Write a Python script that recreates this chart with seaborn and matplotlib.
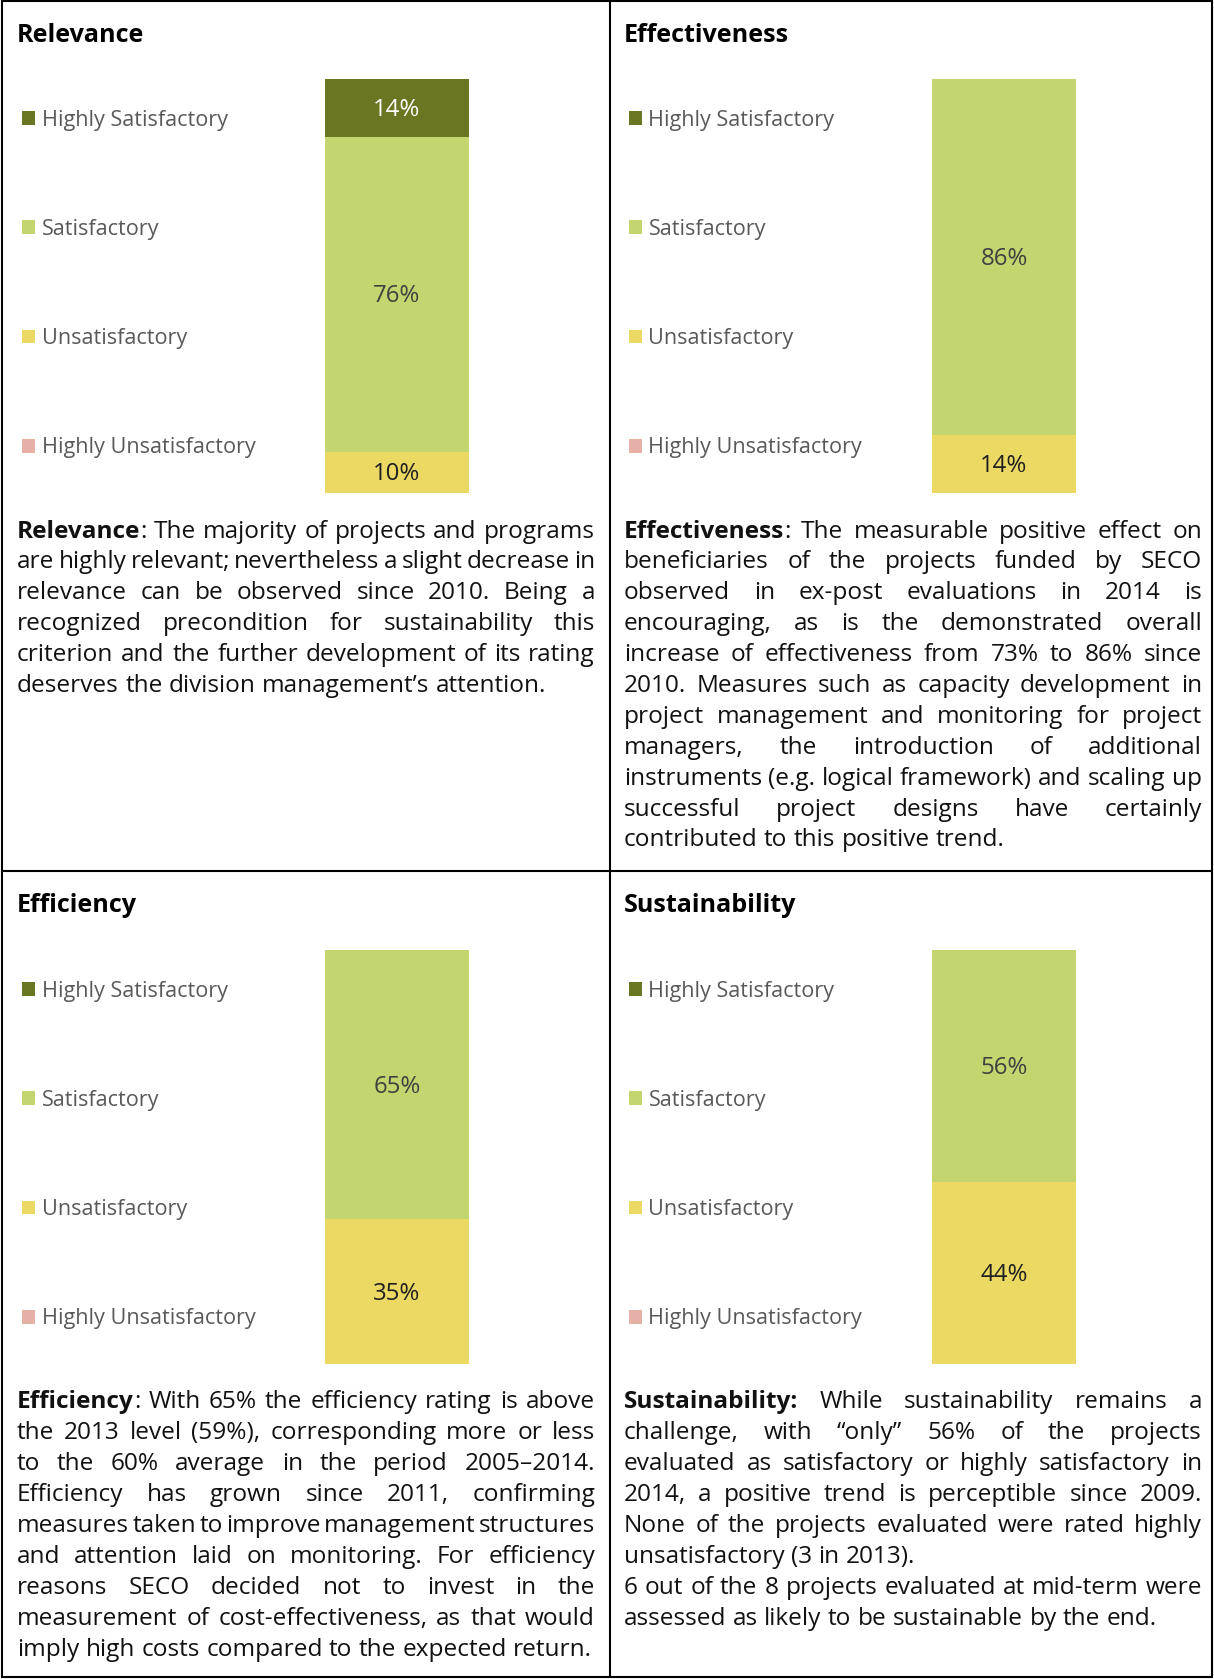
import numpy as np
import pandas as pd
import seaborn as sns
import matplotlib
matplotlib.use("Agg")
import matplotlib.pyplot as plt
from matplotlib.patches import Patch

sns.set_theme(style="white")
plt.rcParams["font.family"] = ["Open Sans", "DejaVu Sans"]

W, H, DPI = 1214, 1679, 100

# ---- data -------------------------------------------------------------
ratings = ["Highly Satisfactory", "Satisfactory", "Unsatisfactory", "Highly Unsatisfactory"]
rating_colors = ["#6A7621", "#C2D56E", "#EBD964", "#E6B0A6"]
value_label_colors = ["#FFFFFF", "#404040", "#1F1F1F", "#1F1F1F"]

criteria = ["Relevance", "Effectiveness", "Efficiency", "Sustainability"]
relevance = [14, 76, 10, 0]
effectiveness = [0, 86, 14, 0]
efficiency = [0, 65, 35, 0]
sustainability = [0, 56, 44, 0]
shares = [relevance, effectiveness, efficiency, sustainability]

# paragraph text: (bold lead, rest of lead word), then paragraphs as lines
relevance_lead = ("Relevance", ":")
relevance_text = [[
    "Relevance: The majority of projects and programs",
    "are highly relevant; nevertheless a slight decrease in",
    "relevance can be observed since 2010. Being a",
    "recognized precondition for sustainability this",
    "criterion and the further development of its rating",
    "deserves the division management\u2019s attention.",
]]
effectiveness_lead = ("Effectiveness", ":")
effectiveness_text = [[
    "Effectiveness: The measurable positive effect on",
    "beneficiaries of the projects funded by SECO",
    "observed in ex-post evaluations in 2014 is",
    "encouraging, as is the demonstrated overall",
    "increase of effectiveness from 73% to 86% since",
    "2010. Measures such as capacity development in",
    "project management and monitoring for project",
    "managers, the introduction of additional",
    "instruments (e.g. logical framework) and scaling up",
    "successful project designs have certainly",
    "contributed to this positive trend.",
]]
efficiency_lead = ("Efficiency", ":")
efficiency_text = [[
    "Efficiency: With 65% the efficiency rating is above",
    "the 2013 level (59%), corresponding more or less",
    "to the 60% average in the period 2005\u20132014.",
    "Efficiency has grown since 2011, confirming",
    "measures taken to improve management structures",
    "and attention laid on monitoring. For efficiency",
    "reasons SECO decided not to invest in the",
    "measurement of cost-effectiveness, as that would",
    "imply high costs compared to the expected return.",
]]
sustainability_lead = ("Sustainability:", "")
sustainability_text = [[
    "Sustainability: While sustainability remains a",
    "challenge, with \u201conly\u201d 56% of the projects",
    "evaluated as satisfactory or highly satisfactory in",
    "2014, a positive trend is perceptible since 2009.",
    "None of the projects evaluated were rated highly",
    "unsatisfactory (3 in 2013).",
], [
    "6 out of the 8 projects evaluated at mid-term were",
    "assessed as likely to be sustainable by the end.",
]]
leads = [relevance_lead, effectiveness_lead, efficiency_lead, sustainability_lead]
texts = [relevance_text, effectiveness_text, efficiency_text, sustainability_text]

# ---- layout (pixels) --------------------------------------------------
col_x = [0, 607]
row_y = [0, 871]
BAR_X = (325, 469)
BAR_Y = (79, 493)
TXT_X = (17, 595)
TXT_Y0, TXT_DY = 529, 30.9
FS_TEXT = 17.6
FS_LEG = 15.6
FS_TITLE = 18.1
FS_VAL = 17.3

fig = plt.figure(figsize=(W / DPI, H / DPI), dpi=DPI)
bg = fig.add_axes([0, 0, 1, 1])
bg.set_xlim(0, W)
bg.set_ylim(H, 0)
bg.axis("off")

# grid of boxes
lw = 1.5
bg.plot([2, 1212, 1212, 2, 2], [1, 1, 1677, 1677, 1], color="black", lw=lw, solid_joinstyle="miter")
bg.plot([610, 610], [1, 1677], color="black", lw=lw)
bg.plot([2, 1212], [871, 871], color="black", lw=lw)

renderer = fig.canvas.get_renderer()


def text_width(s, weight="normal"):
    t = bg.text(0, 0, s, fontsize=FS_TEXT, fontweight=weight)
    w = t.get_window_extent(renderer).width
    t.remove()
    return w


space_w = text_width("n n") - text_width("nn")


def draw_paragraphs(paragraphs, lead, x0, x1, y0):
    """Justified paragraph: words spread to fill each line, last line left-aligned."""
    y = y0
    first = True
    for para in paragraphs:
        for li, line in enumerate(para):
            words = line.split(" ")
            tokens = []
            for wi, w in enumerate(words):
                if first and wi == 0:
                    tokens.append([(lead[0], "bold"), (lead[1], "normal")])
                else:
                    tokens.append([(w, "normal")])
            first = False
            widths = [sum(text_width(s, wt) for s, wt in tok if s) for tok in tokens]
            last = li == len(para) - 1
            if last or len(tokens) == 1:
                gap = space_w
            else:
                gap = (x1 - x0 - sum(widths)) / (len(tokens) - 1)
            x = x0
            base = y + 8.5
            for tok, tw in zip(tokens, widths):
                xs = x
                for s, wt in tok:
                    if not s:
                        continue
                    bg.text(xs, base, s, fontsize=FS_TEXT, fontweight=wt,
                            ha="left", va="baseline", color="#111111")
                    xs += text_width(s, wt)
                x += tw + gap
            y += TXT_DY


for k, (name, vals) in enumerate(zip(criteria, shares)):
    ox = col_x[k % 2]
    oy = row_y[k // 2]

    # panel title
    bg.text(17 + ox, 35 + oy, name, fontsize=FS_TITLE, fontweight="bold",
            ha="left", va="center", color="black")

    # stacked bar: draw cumulative heights from the top segment down
    ax = fig.add_axes([(BAR_X[0] + ox) / W, 1 - (BAR_Y[1] + oy) / H,
                       (BAR_X[1] - BAR_X[0]) / W, (BAR_Y[1] - BAR_Y[0]) / H])
    tops = np.cumsum(vals[::-1])[::-1]
    for v, top, c in zip(vals, tops, rating_colors):
        if v == 0:
            continue
        df = pd.DataFrame({"criterion": [name], "share": [top]})
        sns.barplot(data=df, x="criterion", y="share", color=c, saturation=1,
                    width=1, edgecolor="none", linewidth=0, ax=ax)
    for v, top, tc in zip(vals, tops, value_label_colors):
        if v == 0:
            continue
        ax.annotate(f"{v}%", (0, top - v / 2), xytext=(0, -1.5), textcoords="offset points",
                    ha="center", va="center", fontsize=FS_VAL, color=tc)
    ax.set_xlim(-0.5, 0.5)
    ax.set_ylim(0, 100)
    ax.axis("off")

    # legend
    handles = [Patch(facecolor=c, edgecolor="none") for c in rating_colors]
    leg = bg.legend(handles, ratings, loc="center left",
                    bbox_to_anchor=(22 + ox, 284 + oy), bbox_transform=bg.transData,
                    frameon=False, fontsize=FS_LEG, labelcolor="#595959",
                    handlelength=0.6, handleheight=0.6, handletextpad=0.3,
                    labelspacing=4.07, borderpad=0, borderaxespad=0)
    if k < len(criteria) - 1:
        bg.add_artist(leg)

    draw_paragraphs(texts[k], leads[k], TXT_X[0] + ox, TXT_X[1] + ox, TXT_Y0 + oy)

fig.savefig("out.png", dpi=DPI)
